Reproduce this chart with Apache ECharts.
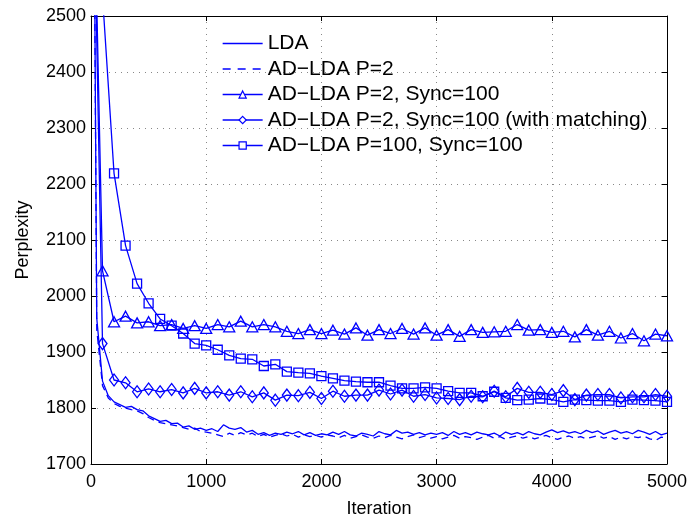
<!DOCTYPE html>
<html>
<head>
<meta charset="utf-8">
<title>Perplexity vs Iteration</title>
<script src="https://cdn.jsdelivr.net/npm/echarts@6/dist/echarts.min.js"></script>
<style>
  html, body { margin: 0; padding: 0; background: #fff; }
  #chart { width: 693px; height: 523px; }
</style>
</head>
<body>
<div id="chart"></div>
<script>
// iterations for the unmarked LDA curves (every 50) and the marked curves (every 100)
var ldaIter = [];
var syncIter = [];
var k;
for (k = 0; k <= 5000; k += 50) { ldaIter.push(k); }
for (k = 0; k <= 5000; k += 100) { syncIter.push(k); }

var ldaVals = [
    3600, 1960, 1848, 1822, 1811, 1806, 1801, 1803, 1797, 1795,
    1786, 1781, 1776, 1778, 1772, 1773, 1766, 1768, 1762, 1764,
    1760, 1763, 1758, 1770, 1764, 1762, 1765, 1757, 1760, 1753,
    1756, 1751, 1755, 1753, 1757, 1754, 1758, 1752, 1756, 1751,
    1754, 1752, 1757, 1753, 1758, 1752, 1750, 1755, 1753, 1750,
    1758, 1754, 1752, 1760, 1755, 1757, 1753, 1756, 1752, 1755,
    1753, 1756, 1751, 1758, 1753, 1756, 1752, 1757, 1754, 1752,
    1755, 1750, 1757, 1753, 1756, 1752, 1758, 1754, 1752, 1757,
    1761, 1756, 1759, 1755, 1758, 1754, 1760, 1756, 1759, 1753,
    1757, 1760, 1755, 1758, 1754, 1760, 1757, 1753, 1758, 1752,
    1755
];

var adLdaVals = [
    3600, 1940, 1840, 1818, 1808, 1803, 1800, 1797, 1795, 1790,
    1783, 1778, 1774, 1772, 1770, 1768, 1765, 1762, 1764, 1758,
    1757, 1755, 1752, 1749, 1755, 1751, 1756, 1752, 1755, 1749,
    1753, 1748, 1751, 1754, 1750, 1753, 1748, 1752, 1749, 1751,
    1748, 1752, 1750, 1747, 1751, 1746, 1749, 1752, 1748, 1746,
    1750, 1747, 1751, 1748, 1745, 1749, 1752, 1747, 1750, 1746,
    1749, 1745, 1748, 1751, 1746, 1749, 1747, 1744, 1748, 1751,
    1746, 1749, 1744, 1748, 1750, 1746, 1749, 1745, 1748, 1751,
    1747, 1744, 1748, 1750, 1746, 1749, 1745, 1748, 1751, 1746,
    1749, 1744, 1748, 1745, 1749, 1747, 1750, 1745, 1742, 1748,
    1746
];

var syncVals = [
    3000, 2045, 1954, 1964, 1952, 1954, 1947, 1949, 1942, 1947,
    1942, 1949, 1945, 1955, 1945, 1949, 1945, 1937, 1933, 1940,
    1933, 1939, 1932, 1943, 1930, 1940, 1933, 1942, 1932, 1943,
    1930, 1940, 1928, 1940, 1935, 1936, 1937, 1949, 1939, 1940,
    1935, 1937, 1927, 1940, 1930, 1937, 1925, 1933, 1920, 1932,
    1929
];

var matchVals = [
    3000, 1915, 1850, 1845, 1829, 1834, 1829, 1833, 1827, 1835,
    1827, 1829, 1823, 1829, 1820, 1827, 1814, 1823, 1822, 1828,
    1817, 1830, 1821, 1823, 1823, 1832, 1825, 1832, 1821, 1824,
    1818, 1817, 1815, 1821, 1820, 1830, 1820, 1835, 1828, 1828,
    1824, 1831, 1815, 1823, 1824, 1824, 1818, 1820, 1820, 1824,
    1821
];

var p100Vals = [
    3300, 2535, 2219, 2090, 2022, 1987, 1959, 1947, 1933, 1915,
    1912, 1904, 1894, 1888, 1887, 1875, 1878, 1865, 1863, 1862,
    1857, 1853, 1849, 1847, 1846, 1846, 1840, 1835, 1835, 1837,
    1835, 1830, 1827, 1827, 1821, 1829, 1818, 1814, 1815, 1817,
    1815, 1811, 1815, 1814, 1813, 1813, 1811, 1815, 1814, 1813,
    1811
];

var seriesNames = [
    'LDA',
    'AD\u2212LDA P=2',
    'AD\u2212LDA P=2, Sync=100',
    'AD\u2212LDA P=2, Sync=100 (with matching)',
    'AD\u2212LDA P=100, Sync=100'
];

var pairs = function (xs, ys) {
    var out = [], i;
    for (i = 0; i < ys.length; i++) {
        out.push([xs[i], ys[i]]);
    }
    return out;
};

var blue = '#0000ff';
var clear = 'rgba(0,0,0,0)';
var font = 'Liberation Sans, Arial, Helvetica, sans-serif';

var lineSeries = function (name, data, symbol, size, dashed) {
    var marked = symbol !== 'none';
    return {
        name: name,
        type: 'line',
        data: data,
        // unmarked curves keep an invisible symbol so the legend shows only the line
        symbol: marked ? symbol : 'circle',
        symbolSize: marked ? size : 0,
        showSymbol: marked,
        clip: true,
        animation: false,
        itemStyle: {
            color: clear,
            borderColor: marked ? blue : clear,
            borderWidth: marked ? 1.3 : 0
        },
        lineStyle: {
            color: blue,
            width: 1.3,
            type: dashed ? [7, 5] : 'solid'
        },
        emphasis: { disabled: true }
    };
};

// hollow legend markers, like the plotted ones; none for the two plain curves
var legendData = [];
for (k = 0; k < seriesNames.length; k++) {
    legendData.push({
        name: seriesNames[k],
        itemStyle: {
            color: k < 2 ? clear : '#fff',
            borderColor: k < 2 ? clear : blue,
            borderWidth: k < 2 ? 0 : 1.2
        },
        lineStyle: {
            color: blue,
            width: 1.3,
            type: k === 1 ? [8, 7] : 'solid'
        }
    });
}

var myChart = echarts.init(document.getElementById('chart'), null, { renderer: 'canvas' });

var axisBase = {
    type: 'value',
    axisLine: { show: true, onZero: false, lineStyle: { color: '#000', width: 1 } },
    axisTick: { show: true, inside: true, length: 5, lineStyle: { color: '#000' } }
};

var plain = function (v) { return String(v); };

var option = {
    backgroundColor: '#fff',
    animation: false,
    grid: { left: 91, right: 26, top: 16, bottom: 49 },
    legend: {
        orient: 'vertical',
        left: 222,
        top: 33,
        padding: 0,
        itemWidth: 40,
        itemHeight: 9,
        itemGap: 4.5,
        selectedMode: false,
        textStyle: { color: '#000', fontSize: 21, fontFamily: font, lineHeight: 21 },
        data: legendData
    },
    xAxis: [
        echarts.util.merge({
            min: 0, max: 5000, interval: 1000,
            position: 'bottom',
            name: 'Iteration',
            nameLocation: 'middle',
            nameGap: 36,
            nameTextStyle: { color: '#000', fontSize: 18, fontFamily: font },
            axisLabel: { color: '#000', fontSize: 18, fontFamily: font, margin: 9, formatter: plain },
            splitLine: { show: true, lineStyle: { color: '#888', width: 1, type: [1, 5] } }
        }, axisBase, true),
        echarts.util.merge({
            min: 0, max: 5000, interval: 1000,
            position: 'top',
            axisLabel: { show: false },
            splitLine: { show: false }
        }, axisBase, true)
    ],
    yAxis: [
        echarts.util.merge({
            min: 1700, max: 2500, interval: 100,
            position: 'left',
            name: 'Perplexity',
            nameLocation: 'middle',
            nameGap: 59,
            nameTextStyle: { color: '#000', fontSize: 18, fontFamily: font },
            axisLabel: { color: '#000', fontSize: 18, fontFamily: font, margin: 5, formatter: plain },
            splitLine: { show: true, lineStyle: { color: '#888', width: 1, type: [1, 5] } }
        }, axisBase, true),
        echarts.util.merge({
            min: 1700, max: 2500, interval: 100,
            position: 'right',
            axisLabel: { show: false },
            splitLine: { show: false }
        }, axisBase, true)
    ],
    series: [
        lineSeries(seriesNames[0], pairs(ldaIter, ldaVals), 'none', 0, false),
        lineSeries(seriesNames[1], pairs(ldaIter, adLdaVals), 'none', 0, true),
        lineSeries(seriesNames[2], pairs(syncIter, syncVals), 'triangle', [11, 10], false),
        lineSeries(seriesNames[3], pairs(syncIter, matchVals), 'diamond', [9, 12], false),
        lineSeries(seriesNames[4], pairs(syncIter, p100Vals), 'rect', [9, 9], false)
    ]
};

myChart.setOption(option);
</script>
</body>
</html>
